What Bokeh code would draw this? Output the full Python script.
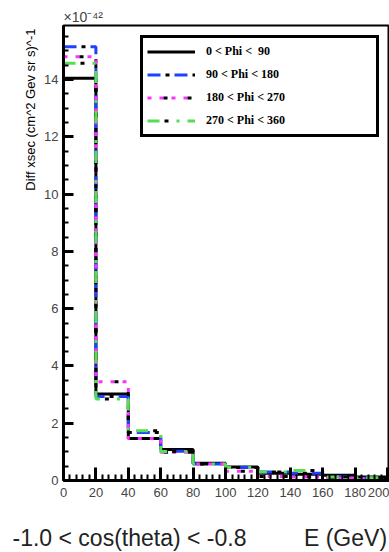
from bokeh.plotting import figure
from bokeh.models import Range1d, SingleIntervalTicker, Legend, LegendItem, Title
from bokeh.embed import file_html
from bokeh.resources import INLINE

# Energy bin edges (GeV) and differential cross sections (units of 1e-42)
edges = [0, 20, 40, 60, 80, 100, 120, 140, 160, 180, 200]
phi_0_90 = [14.05, 3.02, 1.47, 1.08, 0.60, 0.47, 0.25, 0.22, 0.18, 0.12]
phi_90_180 = [15.15, 2.93, 1.68, 1.02, 0.58, 0.45, 0.30, 0.25, 0.14, 0.08]
phi_180_270 = [14.80, 3.45, 1.47, 0.99, 0.58, 0.32, 0.14, 0.12, 0.08, 0.05]
phi_270_360 = [14.57, 2.85, 1.74, 1.01, 0.58, 0.45, 0.30, 0.35, 0.12, 0.10]
series_labels = ["0 < Phi <  90", "90 < Phi < 180", "180 < Phi < 270", "270 < Phi < 360"]

Y_TOP = 15.89
NBSP = "\u00a0"

p = figure(width=389, height=552, x_range=Range1d(0, 201.2), y_range=Range1d(0, Y_TOP),
           output_backend="svg", toolbar_location=None,
           min_border_left=63, min_border_right=0, min_border_top=25, min_border_bottom=72)
p.background_fill_color = "white"
p.border_fill_color = "white"
p.outline_line_color = "black"
p.outline_line_width = 2
p.xgrid.visible = False
p.ygrid.visible = False

tick_font = "Liberation Sans"
for ax in (p.xaxis[0], p.yaxis[0]):
    ax.axis_line_width = 3
    ax.axis_line_color = "black"
    ax.major_tick_out = 0
    ax.minor_tick_out = 0
    ax.major_tick_line_width = 3
    ax.minor_tick_line_width = 2
    ax.major_label_text_font = tick_font
    ax.major_label_text_font_size = "13px"
    ax.major_label_text_color = "#444444"

p.xaxis.ticker = SingleIntervalTicker(interval=20, num_minor_ticks=5)
p.xaxis.major_tick_in = 13
p.xaxis.minor_tick_in = 6
p.xaxis.major_label_standoff = 7
# blank axis label keeps a gap between the tick labels and the caption below
p.xaxis.axis_label = NBSP
p.xaxis.axis_label_text_font_size = "10px"
p.xaxis.axis_label_standoff = 9

p.yaxis.ticker = SingleIntervalTicker(interval=2, num_minor_ticks=4)
p.yaxis.major_tick_in = 10
p.yaxis.minor_tick_in = 5
p.yaxis.major_label_standoff = 5


def step_vals(vals):
    return list(vals) + [vals[-1]]


# Histograms as step lines; coloured dashes carry a small black dot in their gaps
r_black = p.step(x=edges, y=step_vals(phi_0_90), mode="after", line_color="black", line_width=3)

r_blue = p.step(x=edges, y=step_vals(phi_90_180), mode="after", line_color="#2040ff",
                line_width=3, line_dash="13 14")
r_blue_dot = p.step(x=edges, y=step_vals(phi_90_180), mode="after", line_color="black",
                    line_width=3, line_dash="0 18 4 5")

r_mag = p.step(x=edges, y=step_vals(phi_180_270), mode="after", line_color="#ff33ff",
               line_width=3, line_dash="4 8")
r_mag_dot = p.step(x=edges, y=step_vals(phi_180_270), mode="after", line_color="black",
                   line_width=3, line_dash="0 16 4 4")

r_green = p.step(x=edges, y=step_vals(phi_270_360), mode="after", line_color="#55dd55",
                 line_width=3, line_dash="12 17 3 8")
r_green_dot = p.step(x=edges, y=step_vals(phi_270_360), mode="after", line_color="black",
                     line_width=3, line_dash="0 17 4 19")

legend = Legend(items=[
    LegendItem(label=series_labels[0], renderers=[r_black]),
    LegendItem(label=series_labels[1], renderers=[r_blue, r_blue_dot]),
    LegendItem(label=series_labels[2], renderers=[r_mag, r_mag_dot]),
    LegendItem(label=series_labels[3], renderers=[r_green, r_green_dot]),
], location=(77, 343))
legend.border_line_color = "black"
legend.border_line_alpha = 1
legend.border_line_width = 3
legend.border_line_join = "round"
legend.background_fill_color = "white"
legend.background_fill_alpha = 1
legend.padding = 4
legend.margin = 0
legend.spacing = 4
legend.glyph_width = 48
legend.glyph_height = 19
legend.label_height = 19
legend.label_width = 166
legend.label_standoff = 11
legend.label_text_font = "Liberation Serif"
legend.label_text_font_style = "bold"
legend.label_text_font_size = "12px"
legend.label_text_color = "black"
p.add_layout(legend, "center")

# Vertical axis title, aligned to the top end of the axis
p.add_layout(Title(text="Diff xsec (cm^2 Gev sr s)^-1", align="right", offset=3,
                   standoff=7, text_font=tick_font, text_font_size="13px",
                   text_font_style="normal", text_color="black"), "left")

# Common exponent of the vertical axis
p.add_layout(Title(text="\u00d710\u207b\u2074\u00b2", align="left", offset=0, standoff=2,
                   text_font=tick_font, text_font_size="14px", text_font_style="normal",
                   text_color="#444444"), "above")

# Angular slice and energy axis caption
p.add_layout(Title(text="-1.0 < cos(theta) < -0.8" + NBSP * 9 + "E (GeV)", align="left",
                   offset=-51, standoff=0, text_font=tick_font, text_font_size="23px",
                   text_font_style="normal", text_color="#222222"), "below")

open("out.html", "w").write(file_html(p, INLINE))
